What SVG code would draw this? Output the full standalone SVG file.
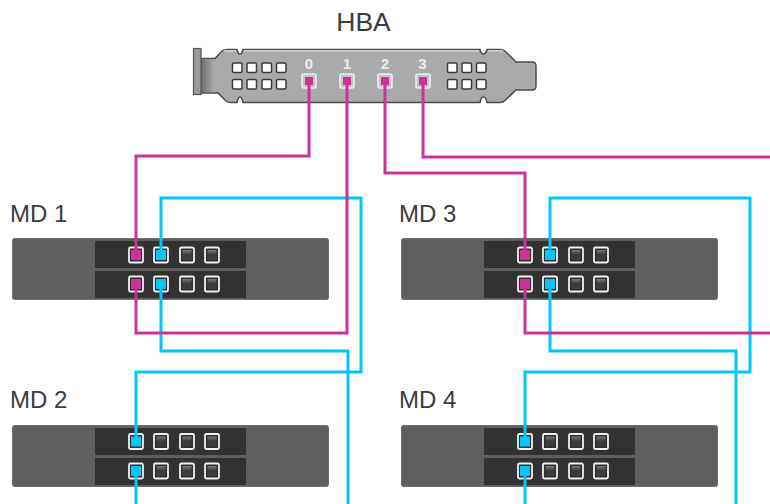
<svg xmlns="http://www.w3.org/2000/svg" width="770" height="504" viewBox="0 0 770 504">
<style>
.lbl{font-family:"Liberation Sans",Arial,sans-serif;font-size:24px;fill:#3c3c3e}
.num{font-family:"Liberation Sans",Arial,sans-serif;font-size:15px;font-weight:bold;fill:#ececec;text-anchor:middle}
.w{fill:none;stroke-width:3;stroke-linejoin:miter}
.m{stroke:#cc3399}
.c{stroke:#00c8fa}
.chassis{fill:#5f5f61;stroke:#6f6f71;stroke-width:1}
.panel{fill:#323233}
.p{fill:#2f2f30;stroke:#f0f0f0;stroke-width:1.800}
.hole{fill:#fff;stroke:#3a3a3c;stroke-width:1.500}
.hp{fill:#c4c4c6;stroke:#ededed;stroke-width:1.600}
.fm{fill:#cc3399}
.fc{fill:#00c8fa}
</style>
<defs>
<linearGradient id="pg" x1="0" y1="0" x2="0" y2="1"><stop offset="0" stop-color="#7a7a7c"/><stop offset="0.45" stop-color="#3c3c3d"/><stop offset="1" stop-color="#3c3c3d"/></linearGradient>
<linearGradient id="bg" x1="0" y1="0" x2="1" y2="0"><stop offset="0" stop-color="#6f7072"/><stop offset="1" stop-color="#a9aaac"/></linearGradient>
<g id="port"><rect x="-7" y="-7.500" width="14" height="15" rx="1.500" class="p"/><rect x="-4.500" y="-5" width="9" height="10" fill="url(#pg)"/></g>
<g id="conn"><rect x="-7" y="-7.500" width="14" height="15" rx="1.500" class="p"/></g>
<g id="chassis">
<rect x="12.500" y="238.500" width="316" height="61" rx="2" class="chassis"/>
<rect x="95" y="241" width="151" height="27" class="panel"/>
<rect x="95" y="271" width="151" height="27" class="panel"/>
</g>
</defs>
<g id="hba">
<text x="363.500" y="31" class="lbl" text-anchor="middle" style="font-size:26.500px">HBA</text>
<path d="M201 58.500 H215 L222 51 Q224 49.500 227 49.500 H237 Q238 54 240 54 Q242 54 243 49.500 H480 Q481 54 483.500 54 Q486 54 487 49.500 H500 Q503 49.500 505 51 L516 62 H532 Q536 62 536 66 V86 Q536 90 532 90 H516 L505 100.500 Q503 102.500 500 102.500 H487 Q486 97 483.500 97 Q481 97 480 102.500 H243 Q242 97 240 97 Q238 97 237 102.500 H231 Q228 102.500 226 101 L218 93 H201 Z" fill="#a9aaac" stroke="#4a4a4c" stroke-width="1.500"/>
<path d="M202 59.500 H212 L214 92.300 H202 Z" fill="url(#bg)"/>
<rect x="193.500" y="48.500" width="7.500" height="46" fill="#98999b" stroke="#555" stroke-width="1.200"/>
<path d="M224 50.800 H236 M244 50.800 H479 M488 50.800 H503" stroke="#efefef" stroke-width="1" fill="none"/>
<g id="hba-holes">
<rect x="232.500" y="63" width="9.500" height="9.500" rx="1.500" class="hole"/><rect x="247" y="63" width="9.500" height="9.500" rx="1.500" class="hole"/><rect x="262" y="63" width="9.500" height="9.500" rx="1.500" class="hole"/><rect x="276.500" y="63" width="9.500" height="9.500" rx="1.500" class="hole"/>
<rect x="232.500" y="79.500" width="9.500" height="9.500" rx="1.500" class="hole"/><rect x="247" y="79.500" width="9.500" height="9.500" rx="1.500" class="hole"/><rect x="262" y="79.500" width="9.500" height="9.500" rx="1.500" class="hole"/><rect x="276.500" y="79.500" width="9.500" height="9.500" rx="1.500" class="hole"/>
<rect x="447.500" y="63" width="9.500" height="9.500" rx="1.500" class="hole"/><rect x="462" y="63" width="9.500" height="9.500" rx="1.500" class="hole"/><rect x="476.500" y="63" width="9.500" height="9.500" rx="1.500" class="hole"/>
<rect x="447.500" y="79.500" width="9.500" height="9.500" rx="1.500" class="hole"/><rect x="462" y="79.500" width="9.500" height="9.500" rx="1.500" class="hole"/><rect x="476.500" y="79.500" width="9.500" height="9.500" rx="1.500" class="hole"/>
</g>
<text x="309" y="69" class="num">0</text><text x="347" y="69" class="num">1</text><text x="385" y="69" class="num">2</text><text x="422.500" y="69" class="num">3</text>
<rect x="302" y="74" width="14" height="14" rx="2" class="hp"/><rect x="340" y="74" width="14" height="14" rx="2" class="hp"/><rect x="378" y="74" width="14" height="14" rx="2" class="hp"/><rect x="416" y="74" width="14" height="14" rx="2" class="hp"/>
<rect x="305" y="77" width="8" height="8" class="fm"/><rect x="343" y="77" width="8" height="8" class="fm"/><rect x="381" y="77" width="8" height="8" class="fm"/><rect x="419" y="77" width="8" height="8" class="fm"/>
</g>
<g id="md1">
<text x="10" y="222" class="lbl">MD 1</text>
<use href="#chassis"/>
<use href="#port" x="187" y="255"/><use href="#port" x="212" y="255"/><use href="#port" x="187" y="284"/><use href="#port" x="212" y="284"/>
<use href="#conn" x="136" y="255"/><use href="#conn" x="161" y="255"/><use href="#conn" x="136" y="284"/><use href="#conn" x="161" y="284"/>
</g>
<g id="md2">
<text x="10" y="408" class="lbl">MD 2</text>
<use href="#chassis" y="187"/>
<use href="#conn" x="136" y="441.500"/><use href="#port" x="161" y="441.500"/><use href="#port" x="187" y="441.500"/><use href="#port" x="212" y="441.500"/>
<use href="#conn" x="136" y="471"/><use href="#port" x="161" y="471"/><use href="#port" x="187" y="471"/><use href="#port" x="212" y="471"/>
</g>
<g id="md3">
<text x="399" y="222" class="lbl">MD 3</text>
<use href="#chassis" x="389"/>
<use href="#port" x="576" y="255"/><use href="#port" x="601" y="255"/><use href="#port" x="576" y="284"/><use href="#port" x="601" y="284"/>
<use href="#conn" x="525" y="255"/><use href="#conn" x="550" y="255"/><use href="#conn" x="525" y="284"/><use href="#conn" x="550" y="284"/>
</g>
<g id="md4">
<text x="399" y="408" class="lbl">MD 4</text>
<use href="#chassis" x="389" y="187"/>
<use href="#conn" x="525" y="441.500"/><use href="#port" x="550" y="441.500"/><use href="#port" x="576" y="441.500"/><use href="#port" x="601" y="441.500"/>
<use href="#conn" x="525" y="471"/><use href="#port" x="550" y="471"/><use href="#port" x="576" y="471"/><use href="#port" x="601" y="471"/>
</g>
<g id="connectors">
<path class="w c" d="M161 255 V198 H361 V372 H136 V441"/>
<path class="w c" d="M161 284 V351 H348 V504"/>
<path class="w c" d="M136 471 V504"/>
<path class="w c" d="M550 255 V198 H750 V372 H525 V441"/>
<path class="w c" d="M550 284 V351 H736 V504"/>
<path class="w c" d="M525 471 V504"/>
<path class="w m" d="M309 81 V156 H136 V255"/>
<path class="w m" d="M347 81 V333 H136 V284"/>
<path class="w m" d="M385 81 V173 H525 V255"/>
<path class="w m" d="M423 81 V157 H770"/>
<path class="w m" d="M525 284 V333 H770"/>
<g id="ends">
<rect x="131" y="250" width="10" height="10" class="fm"/><rect x="156" y="250" width="10" height="10" class="fc"/>
<rect x="131" y="279" width="10" height="10" class="fm"/><rect x="156" y="279" width="10" height="10" class="fc"/>
<rect x="131" y="436.500" width="10" height="10" class="fc"/><rect x="131" y="466" width="10" height="10" class="fc"/>
<rect x="520" y="250" width="10" height="10" class="fm"/><rect x="545" y="250" width="10" height="10" class="fc"/>
<rect x="520" y="279" width="10" height="10" class="fm"/><rect x="545" y="279" width="10" height="10" class="fc"/>
<rect x="520" y="436.500" width="10" height="10" class="fc"/><rect x="520" y="466" width="10" height="10" class="fc"/>
</g>
</g>
</svg>
